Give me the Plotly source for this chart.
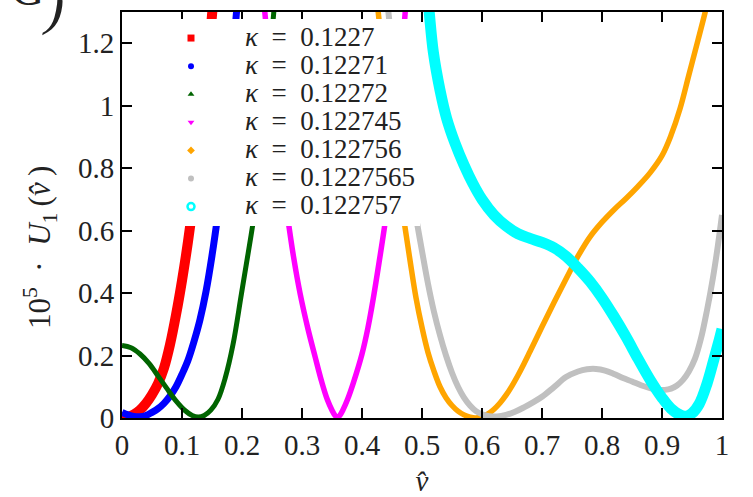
import plotly.graph_objects as go

# ---- data ----
kappa = ["0.1227", "0.12271", "0.12272", "0.122745", "0.122756", "0.1227565", "0.122757"]

v_a = [0.0, 0.01, 0.02, 0.03, 0.04, 0.05, 0.06, 0.07, 0.08, 0.09, 0.1, 0.11, 0.12, 0.13, 0.14, 0.15, 0.156]
U_a = [0.003, 0.004, 0.012, 0.026, 0.047, 0.075, 0.11, 0.16, 0.235, 0.33, 0.44, 0.565, 0.71, 0.88, 1.07, 1.29, 1.42]

v_b = [0.0, 0.01, 0.02, 0.03, 0.04, 0.05, 0.06, 0.07, 0.08, 0.09, 0.1, 0.11, 0.12, 0.13,
       0.14, 0.15, 0.16, 0.17, 0.18, 0.19, 0.198]
U_b = [0.018, 0.01, 0.005, 0.004, 0.008, 0.018, 0.03, 0.047, 0.07, 0.1, 0.14, 0.185, 0.245, 0.315,
       0.405, 0.52, 0.655, 0.81, 1.02, 1.28, 1.45]

v_c = [0.0, 0.015, 0.03, 0.045, 0.06, 0.075, 0.09, 0.105, 0.117, 0.127, 0.137, 0.148, 0.16,
       0.172, 0.185, 0.199, 0.21, 0.219, 0.228, 0.236, 0.243, 0.248, 0.253, 0.259]
U_c = [0.232, 0.225, 0.205, 0.175, 0.135, 0.094, 0.055, 0.024, 0.008, 0.003, 0.008, 0.025, 0.06,
       0.128, 0.235, 0.397, 0.525, 0.632, 0.75, 0.9, 1.06, 1.19, 1.3, 1.45]

v_d = [0.232, 0.238, 0.248, 0.258, 0.267, 0.276, 0.286, 0.297, 0.31, 0.322, 0.333, 0.342,
       0.35, 0.355, 0.359, 0.363, 0.368, 0.376, 0.386, 0.4, 0.41, 0.419, 0.429, 0.439,
       0.448, 0.457, 0.465, 0.472, 0.477]
U_d = [1.42, 1.3, 1.1, 0.93, 0.78, 0.645, 0.515, 0.397, 0.285, 0.195, 0.115, 0.06,
       0.025, 0.008, 0.002, 0.008, 0.025, 0.06, 0.115, 0.205, 0.29, 0.385, 0.505, 0.632,
       0.77, 0.93, 1.12, 1.3, 1.42]

v_e = [0.42, 0.427, 0.438, 0.45, 0.46, 0.47, 0.48, 0.49, 0.5, 0.51, 0.52, 0.53, 0.54, 0.55,
       0.56, 0.57, 0.58, 0.589, 0.6, 0.61, 0.62, 0.63, 0.64, 0.65, 0.66, 0.67, 0.68, 0.7,
       0.72, 0.74, 0.76, 0.78, 0.8, 0.82, 0.84, 0.86, 0.88, 0.9, 0.915, 0.93, 0.945, 0.96,
       0.972, 0.978]
U_e = [1.42, 1.3, 1.1, 0.91, 0.77, 0.632, 0.505, 0.385, 0.29, 0.21, 0.15, 0.1, 0.065, 0.04,
       0.022, 0.01, 0.003, 0.0, 0.004, 0.013, 0.028, 0.048, 0.073, 0.103, 0.137, 0.174, 0.213, 0.292,
       0.37, 0.445, 0.518, 0.58, 0.627, 0.667, 0.703, 0.742, 0.785, 0.84, 0.905, 0.99, 1.1, 1.21,
       1.3, 1.35]

v_f = [0.438, 0.444, 0.455, 0.467, 0.48, 0.491, 0.5, 0.51, 0.52, 0.53, 0.54, 0.55, 0.56, 0.57,
       0.58, 0.59, 0.6, 0.612, 0.625, 0.64, 0.655, 0.67, 0.685, 0.7, 0.72, 0.74, 0.76, 0.775,
       0.79, 0.805, 0.82, 0.835, 0.85, 0.865, 0.88, 0.895, 0.905, 0.915, 0.925, 0.935, 0.945,
       0.955, 0.965, 0.975, 0.985, 0.993, 1.0]
U_f = [1.42, 1.3, 1.1, 0.92, 0.76, 0.632, 0.535, 0.43, 0.34, 0.265, 0.2, 0.145, 0.1, 0.065,
       0.04, 0.022, 0.012, 0.006, 0.005, 0.01, 0.02, 0.034, 0.05, 0.068, 0.099, 0.131, 0.149, 0.156,
       0.157, 0.152, 0.141, 0.128, 0.117, 0.105, 0.096, 0.09, 0.09, 0.094, 0.104, 0.122, 0.15,
       0.19, 0.255, 0.345, 0.45, 0.55, 0.65]

v_g = [0.51, 0.512, 0.519, 0.53, 0.541, 0.555, 0.57, 0.585, 0.6, 0.62, 0.64, 0.66, 0.68, 0.7,
       0.72, 0.74, 0.76, 0.78, 0.8, 0.82, 0.84, 0.86, 0.88, 0.9, 0.915, 0.93, 0.94, 0.95, 0.962,
       0.975, 0.986, 0.994, 1.0]
U_g = [1.34, 1.3, 1.17, 1.05, 0.96, 0.88, 0.81, 0.75, 0.7, 0.65, 0.615, 0.59, 0.575, 0.562,
       0.545, 0.518, 0.48, 0.437, 0.385, 0.325, 0.26, 0.19, 0.123, 0.065, 0.03, 0.01, 0.006, 0.015, 0.045,
       0.11, 0.184, 0.24, 0.285]

x_ticks = [0, 0.1, 0.2, 0.3, 0.4, 0.5, 0.6, 0.7, 0.8, 0.9, 1]
x_ticklabels = ["0", "0.1", "0.2", "0.3", "0.4", "0.5", "0.6", "0.7", "0.8", "0.9", "1"]
y_ticks = [0, 0.2, 0.4, 0.6, 0.8, 1.0, 1.2]
y_ticklabels = ["0", "0.2", "0.4", "0.6", "0.8", "1", "1.2"]

# ---- styling ----
FONT = "Liberation Serif"
TXT = "#222222"
styles = [
    dict(color="#ff0000", width=10, symbol="square", size=7),
    dict(color="#0000ff", width=7, symbol="circle", size=6),
    dict(color="#006400", width=5, symbol="triangle-up", size=6),
    dict(color="#ff00ff", width=5.5, symbol="triangle-down", size=6),
    dict(color="#ffa500", width=5.5, symbol="diamond", size=6),
    dict(color="#c0c0c0", width=6, symbol="circle", size=6),
    dict(color="#00ffff", width=11, symbol="circle-open", size=7),
]
data = [(v_a, U_a), (v_b, U_b), (v_c, U_c), (v_d, U_d), (v_e, U_e), (v_f, U_f), (v_g, U_g)]

fig = go.Figure()
for (v, U), st in zip(data, styles):
    fig.add_trace(go.Scatter(x=v, y=U, mode="lines", showlegend=False,
                             line=dict(color=st["color"], width=st["width"], shape="spline", smoothing=1.0)))
for k, st in zip(kappa, styles):
    mk = dict(symbol=st["symbol"], size=st["size"], color=st["color"])
    if st["symbol"] == "circle-open":
        mk["line"] = dict(width=2.5, color=st["color"])
    fig.add_trace(go.Scatter(x=[None], y=[None], mode="markers", marker=mk,
                             name="<span style='font-size:27px'><i>κ</i>\u2002=\u2002" + k + "</span>"))

L, R, T, B = 122, 31, 12, 79
PW, PH = 753 - L - R, 497 - T - B

def px(xp):
    return (xp - L) / PW

def py(yp):
    return (497 - B - yp) / PH

axis_common = dict(showline=True, linewidth=2, linecolor="black", mirror="ticks",
                   ticks="inside", ticklen=10, tickwidth=1.5, tickcolor="black",
                   showgrid=False, zeroline=False, automargin=False,
                   tickfont=dict(family=FONT, size=29, color=TXT))

fig.update_layout(
    width=753, height=497,
    margin=dict(l=L, r=R, t=T, b=B, autoexpand=False),
    paper_bgcolor="white", plot_bgcolor="white",
    xaxis=dict(range=[0, 1], tickvals=x_ticks, ticktext=x_ticklabels,
               title=dict(text="<i>v̂</i>", font=dict(family=FONT, size=29, color=TXT), standoff=18),
               **axis_common),
    yaxis=dict(range=[0, 1.3], tickvals=y_ticks, ticktext=y_ticklabels, **axis_common),
    legend=dict(x=px(137), y=py(19), xanchor="left", yanchor="top",
                bgcolor="white", itemwidth=98, borderwidth=0,
                font=dict(family=FONT, size=19.3, color=TXT)),
    annotations=[
        dict(text="10<sup>5</sup>\u2002·\u2002<i>U</i><sub>1</sub>\u2009(<i>v̂</i>\u2009)", textangle=-90,
             xref="paper", yref="paper", x=px(40), y=py(248), showarrow=False,
             xanchor="center", yanchor="middle",
             font=dict(family=FONT, size=31, color=TXT)),
        dict(text="G", xref="paper", yref="paper", x=px(9), y=py(17),
             xanchor="left", yanchor="bottom", showarrow=False,
             font=dict(family=FONT, size=46, color=TXT)),
        dict(text="<i>)</i>", xref="paper", yref="paper", x=px(40), y=py(38),
             xanchor="left", yanchor="bottom", showarrow=False,
             font=dict(family=FONT, size=58, color=TXT)),
    ],
)

fig.write_html("out.html")
